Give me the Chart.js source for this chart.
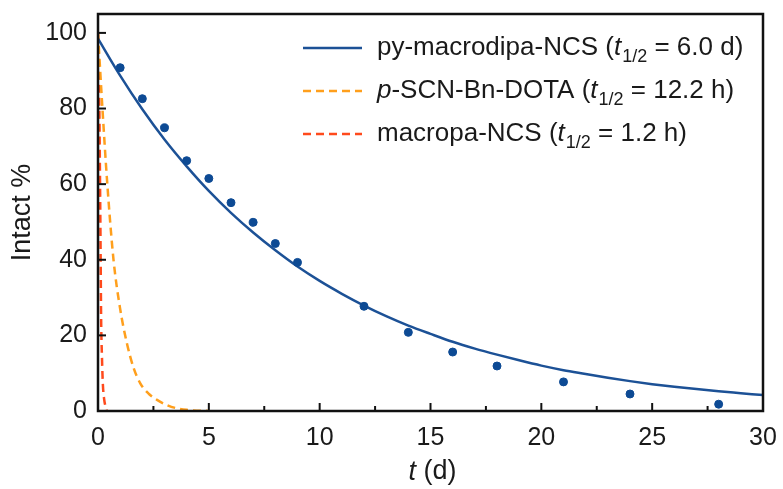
<!DOCTYPE html>
<html>
<head>
<meta charset="utf-8">
<script src="https://cdn.jsdelivr.net/npm/chart.js@4/dist/chart.umd.min.js"></script>
<style>
  html, body { margin: 0; padding: 0; background: #fff; }
  #wrap { width: 783px; height: 489px; }
</style>
</head>
<body>
<div id="wrap"><canvas id="chart" width="783" height="489"></canvas></div>
<script>
// measured points, py-macrodipa-NCS
var dataT = [1, 2, 3, 4, 5, 6, 7, 8, 9, 12, 14, 16, 18, 21, 24, 28];
var dataVals = [90.8, 82.6, 74.9, 66.2, 61.5, 55.1, 49.9, 44.3, 39.3, 27.7, 20.8, 15.6, 11.9, 7.7, 4.5, 1.8];

// fitted curve
var fitT = [0, 1, 2, 3, 4, 5, 6, 7, 8, 9, 10, 11, 12, 13, 14, 15, 16, 17, 18, 19, 20, 21, 22, 23, 24, 25, 26, 27, 28, 29, 30];
var fitVals = [98.5, 88.7, 79.8, 71.8, 64.7, 58.2, 52.4, 47.2, 42.5, 38.2, 34.4, 31.0, 27.9, 25.1, 22.6, 20.4, 18.3, 16.5, 14.9, 13.4, 12.0, 10.8, 9.8, 8.8, 7.9, 7.1, 6.4, 5.8, 5.2, 4.7, 4.2];

// p-SCN-Bn-DOTA curve
var dotaT = [0, 0.2, 0.42, 0.7, 1.0, 1.3, 1.6, 1.9, 2.3, 2.7, 3.1, 3.5, 4.0, 5.0];
var dotaVals = [100, 80, 60, 40, 27, 18, 11.5, 7.4, 4.5, 2.8, 1.6, 0.8, 0.3, 0];

// macropa-NCS curve
var macT = [0, 0.06, 0.1, 0.12, 0.14, 0.18, 0.22, 0.28, 0.35, 0.4];
var macVals = [100, 80, 55, 40, 25, 14, 7, 3, 1, 0];

var xTicks = [0, 5, 10, 15, 20, 25, 30];
var xMinor = [2.5, 7.5, 12.5, 17.5, 22.5, 27.5];
var yTicks = [0, 20, 40, 60, 80, 100];

var legendRows = [
  { pre: '', name: 'py-macrodipa-NCS', half: '6.0 d', color: '#1c5196', dash: [] },
  { pre: 'p', name: '-SCN-Bn-DOTA', half: '12.2 h', color: '#ff9f1c', dash: [8, 5] },
  { pre: '', name: 'macropa-NCS', half: '1.2 h', color: '#ff4a1c', dash: [8, 5] }
];

function toXY(xs, ys) {
  return xs.map(function(t, i) { return { x: t, y: ys[i] }; });
}

var FONT = '"Liberation Sans", Arial, sans-serif';
Chart.defaults.font.family = FONT;
Chart.defaults.color = '#1a1a1a';

var decor = {
  id: 'decor',
  afterDraw: function(chart) {
    var ctx = chart.ctx, a = chart.chartArea;
    var x = chart.scales.x, y = chart.scales.y;
    ctx.save();
    ctx.strokeStyle = '#111';
    ctx.lineWidth = 2;
    // inward ticks
    xTicks.forEach(function(v) {
      var px = x.getPixelForValue(v);
      ctx.beginPath(); ctx.moveTo(px, a.bottom); ctx.lineTo(px, a.bottom - 8); ctx.stroke();
    });
    xMinor.forEach(function(v) {
      var px = x.getPixelForValue(v);
      ctx.beginPath(); ctx.moveTo(px, a.bottom); ctx.lineTo(px, a.bottom - 5); ctx.stroke();
    });
    yTicks.forEach(function(v) {
      var py = y.getPixelForValue(v);
      ctx.beginPath(); ctx.moveTo(a.left, py); ctx.lineTo(a.left + 8, py); ctx.stroke();
    });
    // frame
    ctx.lineWidth = 2.5;
    ctx.strokeRect(a.left, a.top, a.right - a.left, a.bottom - a.top);

    // legend
    var rowY = [48, 91, 134];
    ctx.textBaseline = 'middle';
    ctx.fillStyle = '#1a1a1a';
    legendRows.forEach(function(r, i) {
      var ry = rowY[i];
      ctx.strokeStyle = r.color;
      ctx.lineWidth = 2.5;
      ctx.setLineDash(r.dash);
      ctx.beginPath(); ctx.moveTo(303, ry); ctx.lineTo(362, ry); ctx.stroke();
      ctx.setLineDash([]);
      var tx = 377;
      if (r.pre) {
        ctx.font = 'italic 26px ' + FONT;
        ctx.fillText(r.pre, tx, ry);
        tx += ctx.measureText(r.pre).width;
      }
      ctx.font = '26px ' + FONT;
      var s = r.name + ' (';
      ctx.fillText(s, tx, ry);
      tx += ctx.measureText(s).width;
      ctx.font = 'italic 26px ' + FONT;
      ctx.fillText('t', tx, ry);
      tx += ctx.measureText('t').width + 1;
      ctx.font = '18px ' + FONT;
      ctx.fillText('1/2', tx, ry + 9);
      tx += ctx.measureText('1/2').width;
      ctx.font = '26px ' + FONT;
      ctx.fillText(' = ' + r.half + ')', tx, ry);
    });

    // x title with italic t
    ctx.font = 'italic 27px ' + FONT;
    var w1 = ctx.measureText('t').width;
    ctx.font = '27px ' + FONT;
    var w2 = ctx.measureText(' (d)').width;
    var cx = (a.left + a.right) / 2 - (w1 + w2) / 2 + 2;
    ctx.font = 'italic 27px ' + FONT;
    ctx.fillText('t', cx, 472);
    ctx.font = '27px ' + FONT;
    ctx.fillText(' (d)', cx + w1, 472);
    ctx.restore();
  }
};

var chart = new Chart(document.getElementById('chart'), {
  type: 'scatter',
  data: {
    datasets: [{
      label: 'points',
      data: toXY(dataT, dataVals),
      backgroundColor: '#0d4a94',
      borderColor: '#0d4a94',
      pointRadius: 4,
      showLine: false,
      order: 0
    }, {
      label: 'py-macrodipa-NCS',
      data: toXY(fitT, fitVals),
      borderColor: '#1c5196',
      borderWidth: 2.5,
      pointRadius: 0,
      showLine: true,
      cubicInterpolationMode: 'monotone',
      order: 1
    }, {
      label: 'p-SCN-Bn-DOTA',
      data: toXY(dotaT, dotaVals),
      borderColor: '#ff9f1c',
      borderWidth: 2.5,
      borderDash: [8, 5],
      pointRadius: 0,
      showLine: true,
      cubicInterpolationMode: 'monotone',
      order: 2
    }, {
      label: 'macropa-NCS',
      data: toXY(macT, macVals),
      borderColor: '#ff4a1c',
      borderWidth: 2.5,
      borderDash: [8, 5],
      pointRadius: 0,
      showLine: true,
      cubicInterpolationMode: 'monotone',
      order: 3
    }]
  },
  options: {
    responsive: false,
    animation: false,
    layout: { padding: { top: 14, right: 20, left: 0, bottom: 0 } },
    plugins: { legend: { display: false }, tooltip: { enabled: false } },
    scales: {
      x: {
        type: 'linear',
        min: 0,
        max: 30,
        grid: { display: false, drawTicks: false },
        border: { display: false },
        afterBuildTicks: function(s) { s.ticks = xTicks.map(function(v) { return { value: v }; }); },
        afterFit: function(s) { s.height = 78; s.paddingLeft = 0; s.paddingRight = 0; },
        ticks: { padding: 12, font: { size: 25 }, color: '#1a1a1a', maxRotation: 0 }
      },
      y: {
        min: 0,
        max: 105,
        grid: { display: false, drawTicks: false },
        border: { display: false },
        afterBuildTicks: function(s) { s.ticks = yTicks.map(function(v) { return { value: v }; }); },
        afterFit: function(s) { s.width = 98; s.paddingTop = 0; s.paddingBottom = 0; },
        ticks: { padding: 11, font: { size: 25 }, color: '#1a1a1a' },
        title: { display: true, text: 'Intact %', font: { size: 27 }, color: '#1a1a1a', padding: { top: 6, bottom: 0 } }
      }
    }
  },
  plugins: [decor]
});
</script>
</body>
</html>
